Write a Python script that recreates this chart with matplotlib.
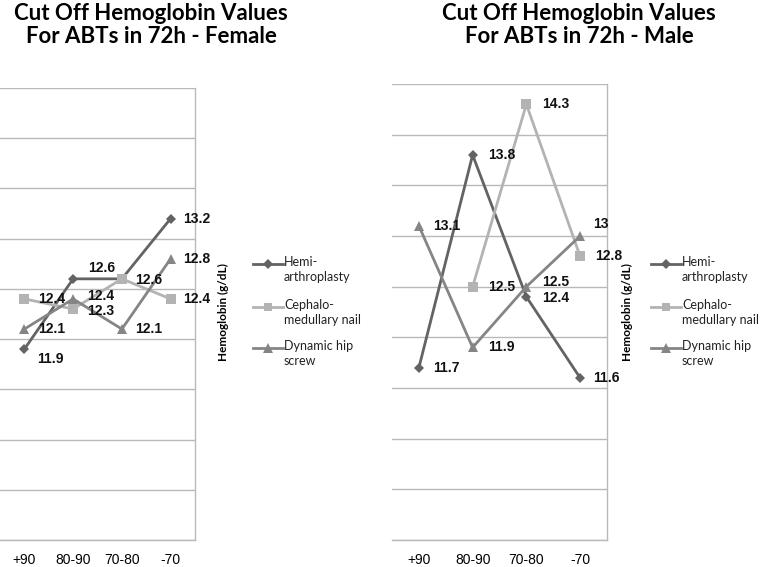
import matplotlib
matplotlib.use("Agg")
import matplotlib.pyplot as plt
from matplotlib.lines import Line2D
import numpy as np

# ---------------- data ----------------
categories = ["+90", "80-90", "70-80", "-70"]
series_names = ["Hemi-\narthroplasty", "Cephalo-\nmedullary nail", "Dynamic hip\nscrew"]

female_hemi = [11.9, 12.6, 12.6, 13.2]
female_cephalo = [12.4, 12.3, 12.6, 12.4]
female_dynamic = [12.1, 12.4, 12.1, 12.8]

male_hemi = [11.7, 13.8, 12.4, 11.6]
male_cephalo = [None, 12.5, 14.3, 12.8]
male_dynamic = [13.1, 11.9, 12.5, 13.0]

title_female = "Cut Off Hemoglobin Values\nFor ABTs in 72h - Female"
title_male = "Cut Off Hemoglobin Values\nFor ABTs in 72h - Male"
ylabel = "Hemoglobin (g/dL)"

# ---------------- style ----------------
colors = ["#636363", "#b3b3b3", "#858585"]
markers = ["D", "s", "^"]
msizes = [5.5, 7, 7.5]
grid_c = "#b9b9b9"

# label offsets (pixels) per series / point; default is to the right
female_offsets = [
    [(13, -10), (15, 11), (13, 0), (13, 0)],
    [(14, 0), (14, -2), (13, -1), (13, 0)],
    [(14, 0), (14, 3), (13, 0), (13, 0)],
]
female_show = [
    [True, True, False, True],
    [True, True, True, True],
    [True, True, True, True],
]
male_offsets = [
    [(14, 0), (15, 0), (16, -1), (13, 0)],
    [(14, 0), (15, 0), (16, 0), (15, 0)],
    [(14, 0), (15, 0), (16, 5), (13, 12)],
]
male_show = [[True] * 4, [True] * 4, [True] * 4]

W, H = 761, 567
fig = plt.figure(figsize=(W / 100, H / 100), dpi=100)


def px_axes(x0, y0, x1, y1):
    return fig.add_axes([x0 / W, 1 - y1 / H, (x1 - x0) / W, (y1 - y0) / H])


def draw_panel(ax, data, offsets, show, title, title_x, legend_x, legend_text_x, ylabel_x):
    x = np.arange(len(categories))
    for i, vals in enumerate(data):
        xs = [xi for xi, v in zip(x, vals) if v is not None]
        ys = [v for v in vals if v is not None]
        ax.plot(xs, ys, color=colors[i], lw=2.0, marker=markers[i], ms=msizes[i],
                markeredgewidth=0, zorder=3)
    for i, vals in enumerate(data):
        for j, v in enumerate(vals):
            if v is None or not show[i][j]:
                continue
            dx, dy = offsets[i][j]
            ax.annotate(f"{v:g}", (j, v), xytext=(dx, dy), textcoords="offset pixels",
                        ha="left", va="center", fontsize=10, fontweight="bold",
                        family="Liberation Sans", color="#111111", zorder=4)
    ax.set_xlim(-0.5, 3.5)
    ax.set_ylim(10, 14.5)
    ax.set_yticks(np.arange(10, 14.51, 0.5))
    ax.yaxis.grid(True, color=grid_c, lw=1.0)
    ax.set_axisbelow(True)
    ax.tick_params(axis="y", length=0, labelleft=False, labelright=False)
    ax.set_xticks(x)
    ax.set_xticklabels(categories, fontsize=10, family="Liberation Sans")
    ax.tick_params(axis="x", length=0, pad=9)
    for s in ["left", "top"]:
        ax.spines[s].set_visible(False)
    for s in ["right", "bottom"]:
        ax.spines[s].set_color(grid_c)
        ax.spines[s].set_linewidth(1.0)

    fig.text(title_x / W, 1 - 25 / H, title, ha="center", va="center", fontsize=16,
             fontweight="bold", family="Lato", linespacing=1.1)
    fig.text(ylabel_x / W, 1 - 312 / H, ylabel, rotation=90, ha="center", va="center",
             fontsize=8.5, fontweight="bold", family="Lato")
    ys_leg = [264, 307, 348]
    for i, name in enumerate(series_names):
        yl = ys_leg[i]
        fig.add_artist(Line2D([legend_x / W, (legend_x + 30) / W], [1 - yl / H, 1 - yl / H],
                              color=colors[i], lw=2.0))
        fig.add_artist(Line2D([(legend_x + 15) / W], [1 - yl / H], color=colors[i],
                              marker=markers[i], ms=msizes[i] * 0.9, markeredgewidth=0, lw=0))
        fig.text(legend_text_x / W, 1 - (yl - 8) / H, name, ha="left", va="top",
                 fontsize=9, family="Lato", color="#222222", linespacing=1.3)


ax1 = px_axes(0, 88, 195, 540)
draw_panel(ax1, [female_hemi, female_cephalo, female_dynamic], female_offsets, female_show,
           title_female, 151, 253, 284, 223)

ax2 = px_axes(392, 84, 607, 540)
draw_panel(ax2, [male_hemi, male_cephalo, male_dynamic], male_offsets, male_show,
           title_male, 579, 651, 682, 627)

fig.savefig("out.png", dpi=100)
